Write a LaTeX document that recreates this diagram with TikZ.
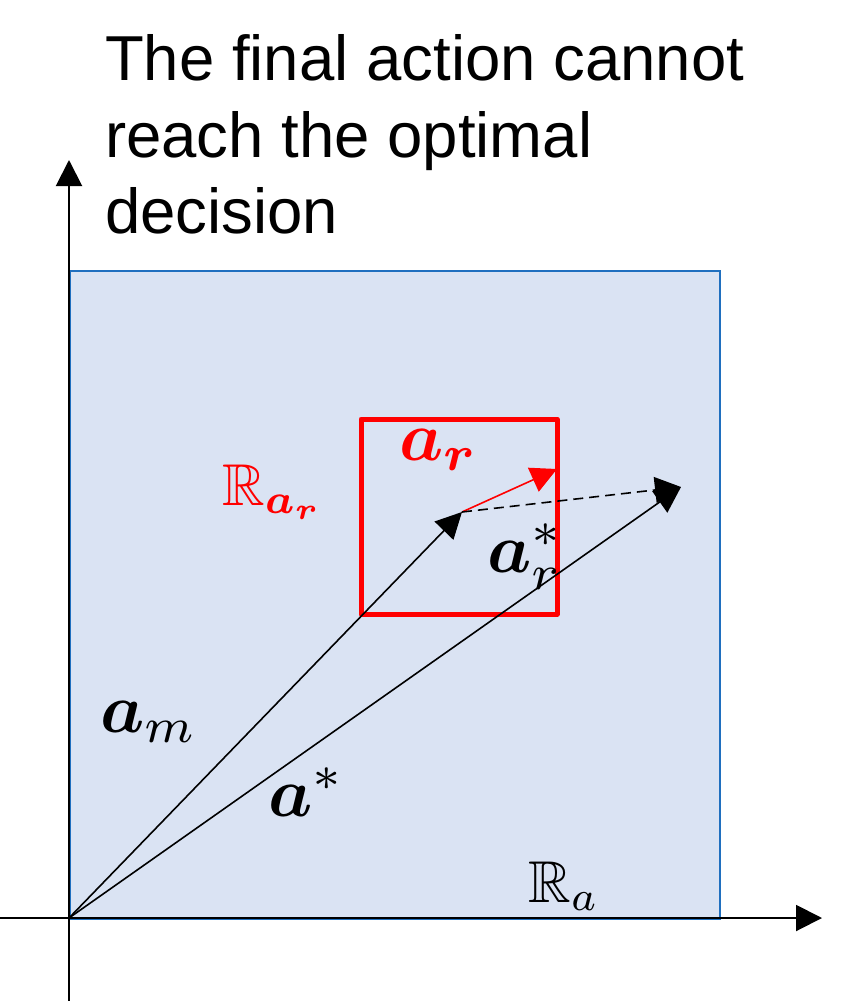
\documentclass[tikz,border=0pt]{standalone}
\usepackage{amsmath,amssymb}
\usepackage{graphicx}
\usepackage{fontspec}
\setmainfont{Liberation Sans}
\usetikzlibrary{arrows.meta}
\definecolor{boxfill}{HTML}{DAE3F3}
\definecolor{boxline}{HTML}{1F6FBF}
\definecolor{myred}{HTML}{FF0000}
\newcommand{\amath}[1]{\scalebox{7.0}{$#1$}}
\newcommand{\rmath}[1]{\scalebox{5.9}{$#1$}}
\tikzset{
  ttl/.style={anchor=base west, inner sep=0pt, font=\fontsize{63.5}{76}\selectfont},
  mlab/.style={anchor=base west, inner sep=0pt},
  tip/.style={-{Triangle[length=26pt,width=26pt]}},
  vec/.style={line width=1.6pt, tip},
}
\begin{document}
\begin{tikzpicture}[x=1pt,y=-1pt]
\useasboundingbox (0,0) rectangle (851,1001);
% title
\node[ttl] (t1) at (105,80) {The final action cannot};
\node[ttl] (t2) at (105,157) {reach the optimal};
\node[ttl] (t3) at (105,233) {decision};
% region
\draw[boxline, fill=boxfill, line width=2.2pt] (70,271) rectangle (720,919);
% axes
\coordinate (xl) at (0,918);
\coordinate (xr) at (822,918);
\coordinate (yb) at (69,1001);
\coordinate (yt) at (69,160);
\draw[line width=2pt, tip] (xl) -- (xr);
\draw[line width=2pt, tip] (yb) -- (yt);
% red box
\draw[myred, line width=5pt, line join=round] (361,419) rectangle (557,614);
% vectors
\coordinate (O) at (69,918);
\coordinate (Am) at (462,512);
\coordinate (As) at (681,487);
\coordinate (Ar) at (557,469);
\draw[vec] (O) -- (Am);
\draw[vec] (O) -- (As);
\draw[vec, myred] (Am) -- (Ar);
\draw[vec, dash pattern=on 10pt off 6pt] (Am) -- (As);
% labels
\node[mlab, myred] (lar) at (399,460) {\amath{\boldsymbol{a}_{\boldsymbol{r}}}};
\node[mlab] (lars) at (487,572) {\amath{\boldsymbol{a}_{r}^{*}}};
\node[mlab] (lam) at (100,732) {\amath{\boldsymbol{a}_{m}}};
\node[mlab] (las) at (268,816) {\amath{\boldsymbol{a}^{*}}};
\node[mlab, myred] (lRr) at (222,505) {\rmath{\mathbb{R}_{\boldsymbol{a}_{\boldsymbol{r}}}}};
\node[mlab] (lRa) at (528,902) {\rmath{\mathbb{R}_{a}}};
\end{tikzpicture}
\end{document}
